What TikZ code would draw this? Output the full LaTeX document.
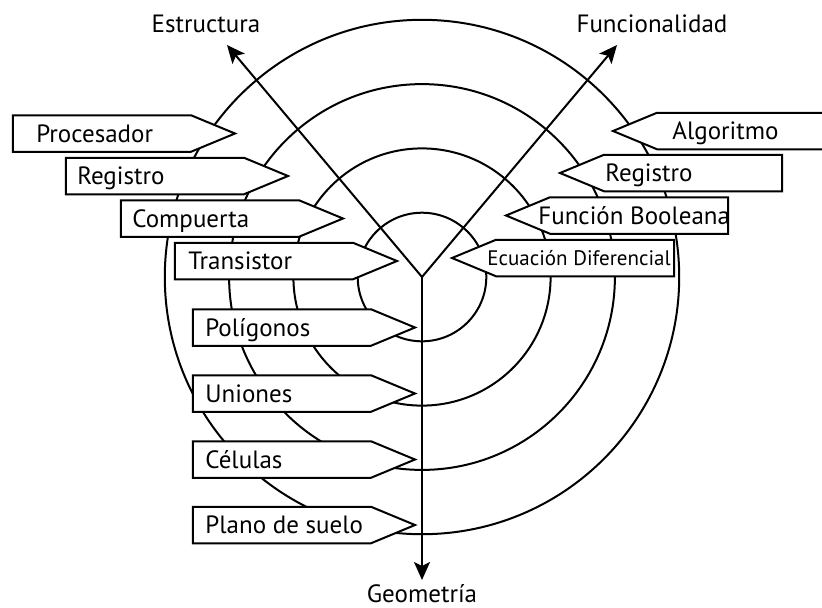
\documentclass[tikz,border=0pt]{standalone}
\usepackage{fontspec}
\setmainfont{PT Sans}
\usetikzlibrary{arrows.meta}

\tikzset{
  ring/.style={line width=1pt},
  axis/.style={line width=1pt, -{Stealth[length=9pt,width=8pt,inset=2pt]}},
  tagbox/.style={line width=1pt, fill=white},
  tagtext/.style={anchor=base west, inner sep=0pt, font=\fontsize{12.5}{15}\selectfont},
  axistext/.style={anchor=base, inner sep=0pt, font=\fontsize{12.5}{15}\selectfont}
}

\begin{document}
\begin{tikzpicture}[x=0.5pt, y=0.5pt]
\useasboundingbox (-422,-330) rectangle (400,277);
\clip (-422,-330) rectangle (400,277);

\foreach \r in {64.3, 128.6, 192.9, 257.2}
  \draw[ring] (0,0) circle [radius=\r*0.5pt];

\coordinate (c) at (0,0);
\coordinate (estr) at (-195,232);
\coordinate (func) at (195,232);
\coordinate (geom) at (0,-303);
\draw[axis] (c) -- (estr);
\draw[axis] (c) -- (func);
\draw[axis] (c) -- (geom);

\node[axistext] (estructura) at (-216,245) {Estructura};
\node[axistext] (funcionalidad) at (230,245) {Funcionalidad};
\node[axistext] (geometria) at (0,-325) {Geometría};

\foreach \tx/\ty/\lx/\txt/\nm in {-187/143.5/-386/Procesador/procesador,
    -134/101/-345/Registro/registroE, -79/58.5/-290/Compuerta/compuerta,
    -25/16/-234/Transistor/transistor, -7/-50.5/-217/Polígonos/poligonos,
    -7/-116.5/-217/Uniones/uniones, -7/-182.5/-217/Células/celulas,
    -7/-248/-217/Plano de suelo/plano}
{
  \filldraw[tagbox] (\tx,\ty) -- ++(-44,18.25) -- ++(-178,0) -- ++(0,-36.5)
    -- ++(178,0) -- cycle;
  \node[tagtext] (\nm) at (\lx,\ty-8.5) {\txt};
}

\foreach \tx/\ty/\lx/\txt/\nm in {191/146/250/Algoritmo/algoritmo,
    138/104/183/Registro/registroF, 84/61.5/116/Función Booleana/funcion}
{
  \filldraw[tagbox] (\tx,\ty) -- ++(44,18.25) -- ++(178,0) -- ++(0,-36.5)
    -- ++(-178,0) -- cycle;
  \node[tagtext] (\nm) at (\lx,\ty-8.5) {\txt};
}

\filldraw[tagbox] (30,19) -- ++(44,18.25) -- ++(178,0) -- ++(0,-36.5)
  -- ++(-178,0) -- cycle;
\node[tagtext, font=\fontsize{10.5}{13}\selectfont] (ecuacion) at (65,12) {Ecuación Diferencial};
\end{tikzpicture}
\end{document}
